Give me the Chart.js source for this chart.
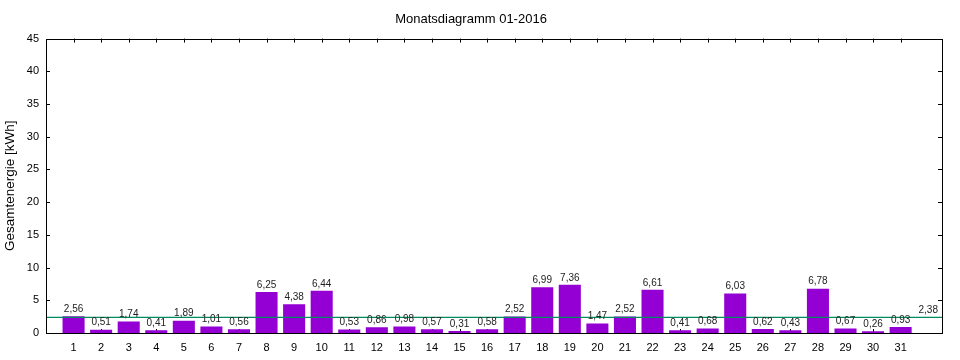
<!DOCTYPE html>
<html>
<head>
<meta charset="utf-8">
<title>Monatsdiagramm 01-2016</title>
<script src="https://cdn.jsdelivr.net/npm/chart.js@4/dist/chart.umd.min.js"></script>
<style>
  body { margin: 0; background: #fff; }
  canvas { display: block; }
</style>
</head>
<body>
<canvas id="chart" width="960" height="360"></canvas>
<script>
// Tageswerte Januar 2016 in kWh
var days = [1, 2, 3, 4, 5, 6, 7, 8, 9, 10, 11, 12, 13, 14, 15, 16, 17, 18, 19, 20, 21, 22, 23, 24, 25, 26, 27, 28, 29, 30, 31];
var energy = [2.56, 0.51, 1.74, 0.41, 1.89, 1.01, 0.56, 6.25, 4.38, 6.44, 0.53, 0.86, 0.98, 0.57, 0.31, 0.58, 2.52, 6.99, 7.36, 1.47, 2.52, 6.61, 0.41, 0.68, 6.03, 0.62, 0.43, 6.78, 0.67, 0.26, 0.93];
var average = 2.38;
var avgLabelPos = 32;
var xRange = [0, 32.5];
var yTicks = [0, 5, 10, 15, 20, 25, 30, 35, 40, 45];

var fontFamily = "'Liberation Sans', Arial, sans-serif";

function fmt(v) {
  return v.toFixed(2).replace(".", ",");
}

// gnuplot style: box around the plot and ticks pointing inward
var frame = {
  id: "frame",
  beforeDatasetsDraw: function (chart) {
    let ctx = chart.ctx;
    let area = chart.chartArea;
    let x = chart.scales.x;
    let y = chart.scales.y;
    let len = 4;
    ctx.save();
    ctx.strokeStyle = "#000";
    ctx.lineWidth = 1;
    ctx.beginPath();
    yTicks.forEach(function (t) {
      let py = Math.round(y.getPixelForValue(t)) + 0.5;
      ctx.moveTo(area.left, py);
      ctx.lineTo(area.left + len, py);
      ctx.moveTo(area.right, py);
      ctx.lineTo(area.right - len, py);
    });
    days.forEach(function (d) {
      let px = Math.round(x.getPixelForValue(d)) + 0.5;
      ctx.moveTo(px, area.top);
      ctx.lineTo(px, area.top + len);
      ctx.moveTo(px, area.bottom);
      ctx.lineTo(px, area.bottom - len);
    });
    ctx.stroke();
    ctx.restore();
  },
  afterDatasetsDraw: function (chart) {
    let ctx = chart.ctx;
    let area = chart.chartArea;
    ctx.save();
    ctx.font = "10px " + fontFamily;
    ctx.fillStyle = "#222";
    ctx.textAlign = "center";
    ctx.textBaseline = "bottom";
    let meta = chart.getDatasetMeta(0);
    meta.data.forEach(function (bar, i) {
      ctx.fillText(fmt(energy[i]), bar.x, bar.y - 2);
    });
    ctx.fillText(fmt(average), chart.scales.x.getPixelForValue(avgLabelPos), chart.scales.y.getPixelForValue(average) - 2);

    ctx.strokeStyle = "#000";
    ctx.lineWidth = 1;
    ctx.strokeRect(Math.round(area.left) + 0.5, Math.round(area.top) + 0.5,
      Math.round(area.right - area.left), Math.round(area.bottom - area.top));
    ctx.restore();
  }
};

new Chart("chart", {
  data: {
    datasets: [
      {
        type: "bar",
        label: "Energie",
        data: days.map((d, i) => ({ x: d, y: energy[i] })),
        backgroundColor: "#9400d3",
        barPercentage: 0.8,
        categoryPercentage: 1.0,
        order: 2
      },
      {
        type: "line",
        label: "Durchschnitt",
        data: [{ x: xRange[0], y: average }, { x: xRange[1], y: average }],
        borderColor: "#008a62",
        borderWidth: 1.3,
        pointRadius: 0,
        order: 1
      }
    ]
  },
  options: {
    responsive: false,
    animation: false,
    events: [],
    layout: { padding: { left: 0, right: 18, top: 0, bottom: 0 } },
    plugins: {
      legend: { display: false },
      tooltip: { enabled: false },
      title: {
        display: true,
        text: "Monatsdiagramm 01-2016",
        color: "#000",
        font: { family: fontFamily, size: 13, weight: "normal" },
        padding: { top: 12, bottom: 11 }
      }
    },
    scales: {
      x: {
        type: "linear",
        offset: false,
        min: xRange[0],
        max: xRange[1],
        grid: { display: false, drawTicks: false },
        border: { display: false },
        afterFit: function (scale) { scale.height = 27; },
        afterBuildTicks: function (scale) {
          scale.ticks = days.map(d => ({ value: d }));
        },
        ticks: {
          autoSkip: false,
          maxRotation: 0,
          padding: 8,
          color: "#000",
          font: { family: fontFamily, size: 11 },
          callback: function (v) { return String(v); }
        }
      },
      y: {
        min: 0,
        max: 45,
        grid: { display: false, drawTicks: false },
        border: { display: false },
        afterFit: function (scale) { scale.width = 46; },
        afterBuildTicks: function (scale) {
          scale.ticks = yTicks.map(t => ({ value: t }));
        },
        title: {
          display: true,
          text: "Gesamtenergie [kWh]",
          color: "#000",
          font: { family: fontFamily, size: 13.5 },
          padding: { top: 2, bottom: 0 }
        },
        ticks: {
          padding: 7,
          color: "#000",
          font: { family: fontFamily, size: 11 }
        }
      }
    }
  },
  plugins: [frame]
});
</script>
</body>
</html>
